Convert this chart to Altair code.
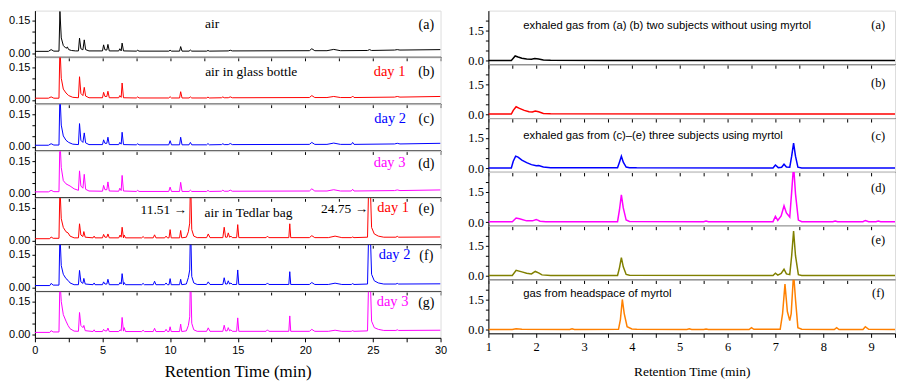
import altair as alt
import pandas as pd

# ---------------- data ----------------
# Left column: retention time (min) vs signal, panels (a)-(g)
LEFT_A = [(0, 0.008), (1.0, 0.008), (1.2, 0.016), (1.4, 0.009), (1.78, 0.009), (1.85, 0.192), (1.95, 0.07),
          (2.1, 0.035), (2.3, 0.022), (2.4, 0.028), (2.5, 0.016), (2.7, 0.012), (3.0, 0.01), (3.22, 0.01),
          (3.3, 0.069), (3.4, 0.02), (3.55, 0.015), (3.65, 0.061), (3.75, 0.016), (4.0, 0.01), (5.0, 0.01),
          (5.08, 0.038), (5.18, 0.015), (5.32, 0.014), (5.4, 0.04), (5.5, 0.01), (6.2, 0.01), (6.28, 0.02),
          (6.38, 0.01), (6.45, 0.046), (6.55, 0.01), (7.5, 0.009), (7.6, 0.013), (7.7, 0.009), (9.9, 0.009),
          (10.0, 0.013), (10.1, 0.009), (10.7, 0.009), (10.78, 0.03), (10.88, 0.009), (11.4, 0.009),
          (11.5, 0.014), (11.6, 0.009), (12.7, 0.009), (12.8, 0.012), (12.9, 0.009), (14.3, 0.01),
          (14.45, 0.013), (14.6, 0.01), (20.3, 0.011), (20.48, 0.02), (20.7, 0.011), (21.6, 0.011),
          (22.1, 0.017), (22.6, 0.011), (24.6, 0.012), (24.75, 0.016), (24.9, 0.012), (26.6, 0.014),
          (26.8, 0.016), (27.0, 0.014), (30, 0.016)]
LEFT_B = [(0, 0.008), (1.0, 0.008), (1.2, 0.014), (1.4, 0.008), (1.78, 0.008), (1.85, 0.25), (1.95, 0.1),
          (2.1, 0.05), (2.3, 0.032), (2.5, 0.02), (2.8, 0.012), (3.22, 0.01), (3.3, 0.107), (3.4, 0.03),
          (3.55, 0.02), (3.65, 0.058), (3.75, 0.018), (4.0, 0.01), (5.0, 0.01), (5.08, 0.035), (5.18, 0.016),
          (5.32, 0.016), (5.4, 0.04), (5.5, 0.01), (6.2, 0.01), (6.28, 0.02), (6.38, 0.012), (6.45, 0.078),
          (6.55, 0.01), (7.5, 0.009), (7.6, 0.014), (7.7, 0.009), (9.9, 0.009), (10.0, 0.015), (10.1, 0.009),
          (10.7, 0.009), (10.78, 0.038), (10.88, 0.009), (11.4, 0.009), (11.5, 0.014), (11.6, 0.009),
          (12.7, 0.009), (12.8, 0.013), (12.9, 0.009), (13.8, 0.01), (13.9, 0.014), (14.0, 0.01), (14.3, 0.01),
          (14.45, 0.014), (14.6, 0.01), (20.3, 0.011), (20.48, 0.02), (20.7, 0.011), (21.6, 0.011),
          (22.1, 0.016), (22.6, 0.011), (23.4, 0.011), (23.5, 0.018), (23.6, 0.011), (26.6, 0.013),
          (26.8, 0.016), (27.0, 0.013), (30, 0.016)]
LEFT_C = [(0, 0.007), (1.0, 0.007), (1.2, 0.014), (1.4, 0.008), (1.78, 0.008), (1.85, 0.25), (1.95, 0.1),
          (2.1, 0.05), (2.3, 0.03), (2.5, 0.02), (2.8, 0.012), (3.22, 0.01), (3.3, 0.107), (3.4, 0.03),
          (3.55, 0.02), (3.65, 0.064), (3.75, 0.018), (4.0, 0.01), (5.0, 0.01), (5.08, 0.032), (5.18, 0.016),
          (5.32, 0.016), (5.4, 0.044), (5.5, 0.01), (6.2, 0.01), (6.28, 0.02), (6.38, 0.012), (6.45, 0.067),
          (6.55, 0.01), (7.5, 0.009), (7.6, 0.014), (7.7, 0.009), (9.9, 0.009), (10.0, 0.028), (10.1, 0.009),
          (10.7, 0.009), (10.78, 0.044), (10.88, 0.009), (11.4, 0.009), (11.5, 0.02), (11.6, 0.009),
          (12.7, 0.009), (12.8, 0.015), (12.9, 0.009), (13.8, 0.01), (13.9, 0.014), (14.0, 0.01), (14.3, 0.01),
          (14.45, 0.015), (14.6, 0.01), (20.3, 0.011), (20.48, 0.02), (20.7, 0.011), (21.6, 0.011),
          (22.1, 0.017), (22.6, 0.011), (23.4, 0.011), (23.5, 0.02), (23.6, 0.011), (26.6, 0.013),
          (26.8, 0.016), (27.0, 0.013), (30, 0.016)]
LEFT_D = [(0, 0.008), (1.0, 0.008), (1.2, 0.015), (1.4, 0.009), (1.78, 0.009), (1.85, 0.25), (1.95, 0.12),
          (2.1, 0.06), (2.3, 0.045), (2.6, 0.035), (2.9, 0.022), (3.22, 0.015), (3.3, 0.105), (3.4, 0.035),
          (3.55, 0.025), (3.65, 0.089), (3.75, 0.02), (4.0, 0.012), (5.0, 0.011), (5.08, 0.038),
          (5.18, 0.018), (5.32, 0.018), (5.4, 0.054), (5.5, 0.012), (6.2, 0.011), (6.28, 0.025),
          (6.38, 0.014), (6.45, 0.084), (6.55, 0.012), (7.5, 0.01), (7.6, 0.015), (7.7, 0.01), (9.9, 0.01),
          (10.0, 0.03), (10.1, 0.01), (10.7, 0.01), (10.78, 0.052), (10.88, 0.01), (11.4, 0.01),
          (11.5, 0.016), (11.6, 0.01), (12.7, 0.01), (12.8, 0.015), (12.9, 0.01), (13.8, 0.011),
          (13.9, 0.016), (14.0, 0.011), (14.3, 0.011), (14.45, 0.016), (14.6, 0.011), (20.3, 0.012),
          (20.48, 0.022), (20.7, 0.012), (21.6, 0.012), (22.1, 0.018), (22.6, 0.012), (23.4, 0.012),
          (23.5, 0.02), (23.6, 0.012), (26.6, 0.014), (26.8, 0.017), (27.0, 0.014), (30, 0.017)]
LEFT_E = [(0, 0.008), (1.1, 0.008), (1.2, 0.016), (1.35, 0.01), (1.78, 0.01), (1.85, 0.25), (1.95, 0.1),
          (2.1, 0.06), (2.3, 0.04), (2.45, 0.035), (2.6, 0.02), (2.9, 0.012), (3.22, 0.012), (3.3, 0.077),
          (3.4, 0.025), (3.55, 0.018), (3.62, 0.041), (3.72, 0.015), (4.3, 0.012), (4.38, 0.02),
          (4.45, 0.012), (5.0, 0.012), (5.08, 0.028), (5.18, 0.015), (5.32, 0.015), (5.4, 0.03),
          (5.5, 0.012), (6.2, 0.012), (6.3, 0.025), (6.38, 0.015), (6.45, 0.061), (6.55, 0.012),
          (6.6, 0.025), (6.7, 0.012), (7.9, 0.012), (8.0, 0.018), (8.1, 0.012), (8.75, 0.012),
          (8.85, 0.026), (8.95, 0.012), (9.6, 0.012), (9.7, 0.02), (9.8, 0.012), (9.92, 0.012),
          (10.0, 0.05), (10.08, 0.012), (10.7, 0.012), (10.78, 0.046), (10.86, 0.012), (11.2, 0.015),
          (11.35, 0.04), (11.45, 0.08), (11.51, 0.3), (11.6, 0.05), (11.75, 0.02), (12.0, 0.013),
          (12.7, 0.013), (12.82, 0.03), (12.95, 0.013), (13.9, 0.013), (14.0, 0.061), (14.1, 0.015),
          (14.22, 0.015), (14.3, 0.035), (14.4, 0.015), (14.5, 0.02), (14.6, 0.013), (14.92, 0.013),
          (15.0, 0.073), (15.08, 0.013), (17.1, 0.013), (17.2, 0.02), (17.3, 0.013), (18.78, 0.013),
          (18.85, 0.077), (18.92, 0.013), (20.3, 0.013), (20.48, 0.022), (20.7, 0.013), (21.7, 0.013),
          (22.2, 0.02), (22.7, 0.013), (23.4, 0.013), (23.5, 0.016), (23.6, 0.013), (24.6, 0.015),
          (24.7, 0.3), (24.78, 0.3), (24.9, 0.06), (25.1, 0.03), (25.4, 0.02), (25.8, 0.015), (26.7, 0.015),
          (26.8, 0.019), (26.9, 0.015), (30, 0.016)]
LEFT_F = [(0, 0.008), (1.1, 0.008), (1.2, 0.018), (1.35, 0.01), (1.78, 0.01), (1.85, 0.25), (1.95, 0.1),
          (2.1, 0.06), (2.3, 0.04), (2.45, 0.032), (2.6, 0.02), (2.9, 0.012), (3.22, 0.012), (3.3, 0.078),
          (3.4, 0.025), (3.55, 0.018), (3.62, 0.041), (3.72, 0.015), (4.3, 0.012), (4.38, 0.02),
          (4.45, 0.012), (5.0, 0.012), (5.08, 0.025), (5.18, 0.015), (5.32, 0.015), (5.4, 0.037),
          (5.5, 0.012), (6.2, 0.012), (6.3, 0.022), (6.38, 0.015), (6.45, 0.063), (6.55, 0.012),
          (6.6, 0.022), (6.7, 0.012), (7.9, 0.012), (8.0, 0.018), (8.1, 0.012), (8.75, 0.012),
          (8.85, 0.028), (8.95, 0.012), (9.6, 0.012), (9.7, 0.02), (9.8, 0.012), (9.92, 0.012),
          (10.0, 0.04), (10.08, 0.012), (10.7, 0.012), (10.78, 0.037), (10.86, 0.012), (11.2, 0.015),
          (11.35, 0.045), (11.45, 0.08), (11.51, 0.3), (11.6, 0.05), (11.75, 0.02), (12.0, 0.013),
          (12.7, 0.013), (12.82, 0.025), (12.95, 0.013), (13.9, 0.013), (14.0, 0.044), (14.1, 0.015),
          (14.22, 0.015), (14.3, 0.03), (14.4, 0.015), (14.5, 0.02), (14.6, 0.013), (14.92, 0.013),
          (15.0, 0.08), (15.08, 0.013), (17.1, 0.013), (17.2, 0.02), (17.3, 0.013), (18.78, 0.013),
          (18.85, 0.072), (18.92, 0.013), (20.3, 0.013), (20.48, 0.022), (20.7, 0.013), (21.7, 0.013),
          (22.2, 0.019), (22.7, 0.013), (23.4, 0.013), (23.5, 0.017), (23.6, 0.013), (24.6, 0.015),
          (24.7, 0.3), (24.78, 0.3), (24.9, 0.06), (25.1, 0.03), (25.4, 0.02), (25.8, 0.015), (26.7, 0.015),
          (26.8, 0.018), (26.9, 0.015), (30, 0.016)]
LEFT_G = [(0, 0.008), (1.1, 0.008), (1.2, 0.016), (1.35, 0.01), (1.78, 0.01), (1.85, 0.25), (1.95, 0.15),
          (2.1, 0.09), (2.3, 0.06), (2.45, 0.04), (2.6, 0.025), (2.9, 0.014), (3.22, 0.013), (3.3, 0.1),
          (3.4, 0.04), (3.55, 0.03), (3.62, 0.04), (3.72, 0.016), (4.3, 0.012), (4.38, 0.02), (4.45, 0.012),
          (5.0, 0.012), (5.08, 0.022), (5.18, 0.015), (5.32, 0.015), (5.4, 0.028), (5.5, 0.012),
          (6.2, 0.012), (6.3, 0.02), (6.38, 0.015), (6.45, 0.077), (6.55, 0.014), (6.6, 0.03), (6.7, 0.012),
          (7.9, 0.012), (8.0, 0.018), (8.1, 0.012), (8.75, 0.012), (8.85, 0.027), (8.95, 0.012),
          (9.6, 0.012), (9.7, 0.022), (9.8, 0.012), (9.92, 0.012), (10.0, 0.034), (10.08, 0.012),
          (10.7, 0.012), (10.78, 0.046), (10.86, 0.012), (11.2, 0.015), (11.35, 0.04), (11.45, 0.08),
          (11.51, 0.3), (11.6, 0.05), (11.75, 0.02), (12.0, 0.013), (12.7, 0.013), (12.82, 0.029),
          (12.95, 0.013), (13.9, 0.013), (14.0, 0.041), (14.1, 0.015), (14.22, 0.015), (14.3, 0.03),
          (14.4, 0.015), (14.5, 0.02), (14.6, 0.013), (14.92, 0.013), (15.0, 0.075), (15.08, 0.013),
          (17.1, 0.013), (17.2, 0.02), (17.3, 0.013), (18.78, 0.013), (18.85, 0.084), (18.92, 0.013),
          (20.3, 0.013), (20.48, 0.022), (20.7, 0.013), (21.7, 0.013), (22.2, 0.018), (22.7, 0.013),
          (23.4, 0.013), (23.5, 0.016), (23.6, 0.013), (24.6, 0.015), (24.7, 0.3), (24.78, 0.3),
          (24.9, 0.06), (25.1, 0.03), (25.4, 0.022), (25.8, 0.017), (26.7, 0.017), (26.8, 0.02),
          (26.9, 0.017), (30, 0.018)]

# Right column: retention time (min) vs signal, panels (a)-(f)
RIGHT_A = [(1.0, 0.01), (1.48, 0.01), (1.52, 0.12), (1.56, 0.23), (1.62, 0.18), (1.7, 0.12), (1.8, 0.08),
           (1.9, 0.07), (1.97, 0.1), (2.05, 0.08), (2.15, 0.03), (2.3, 0.015), (3.5, 0.01), (9.5, 0.01)]
RIGHT_B = [(1.0, 0.02), (1.48, 0.02), (1.52, 0.2), (1.58, 0.38), (1.65, 0.3), (1.75, 0.2), (1.85, 0.13),
           (1.92, 0.12), (1.98, 0.17), (2.05, 0.13), (2.15, 0.05), (2.3, 0.03), (9.5, 0.02)]
RIGHT_C = [(1.0, 0.01), (1.48, 0.01), (1.52, 0.35), (1.57, 0.6), (1.62, 0.55), (1.7, 0.4), (1.8, 0.28),
           (1.9, 0.18), (2.0, 0.12), (2.05, 0.13), (2.15, 0.06), (2.3, 0.02), (3.7, 0.02), (3.74, 0.3),
           (3.78, 0.6), (3.82, 0.3), (3.88, 0.06), (3.95, 0.03), (4.1, 0.02), (6.95, 0.01), (7.0, 0.16),
           (7.06, 0.03), (7.13, 0.05), (7.18, 0.2), (7.23, 0.06), (7.3, 0.05), (7.34, 0.6), (7.38, 1.25),
           (7.42, 0.6), (7.47, 0.05), (7.55, 0.01), (9.5, 0.01)]
RIGHT_D = [(1.0, 0.01), (1.5, 0.01), (1.58, 0.2), (1.65, 0.16), (1.8, 0.06), (1.92, 0.06), (2.0, 0.13),
           (2.08, 0.04), (2.2, 0.02), (3.7, 0.02), (3.74, 0.6), (3.78, 1.35), (3.82, 0.7), (3.88, 0.1),
           (3.95, 0.03), (5.5, 0.02), (5.55, 0.05), (5.6, 0.02), (6.95, 0.02), (7.0, 0.28), (7.05, 0.08),
           (7.12, 0.3), (7.18, 0.81), (7.23, 0.45), (7.3, 0.25), (7.34, 1.5), (7.38, 2.8), (7.42, 1.4),
           (7.48, 0.1), (7.55, 0.02), (8.2, 0.02), (8.25, 0.05), (8.3, 0.02), (8.83, 0.02), (8.88, 0.08),
           (8.95, 0.02), (9.1, 0.02), (9.15, 0.05), (9.2, 0.02), (9.5, 0.02)]
RIGHT_E = [(1.0, 0.02), (1.5, 0.02), (1.58, 0.28), (1.7, 0.2), (1.8, 0.13), (1.9, 0.1), (1.98, 0.22),
           (2.05, 0.15), (2.12, 0.05), (2.3, 0.02), (3.7, 0.02), (3.74, 0.4), (3.78, 0.91), (3.82, 0.45),
           (3.88, 0.07), (3.95, 0.03), (6.95, 0.02), (7.0, 0.13), (7.05, 0.04), (7.12, 0.12), (7.18, 0.33),
           (7.23, 0.1), (7.3, 0.06), (7.34, 1.0), (7.38, 2.23), (7.42, 1.0), (7.48, 0.06), (7.55, 0.02),
           (9.5, 0.02)]
RIGHT_F = [(1.0, 0.01), (1.5, 0.01), (1.58, 0.05), (1.7, 0.02), (2.7, 0.01), (2.75, 0.04), (2.8, 0.01),
           (3.72, 0.02), (3.76, 0.5), (3.8, 1.5), (3.84, 0.8), (3.9, 0.15), (4.0, 0.04), (4.1, 0.02),
           (5.15, 0.01), (5.2, 0.04), (5.25, 0.01), (5.5, 0.01), (5.55, 0.03), (5.6, 0.01), (6.45, 0.01),
           (6.5, 0.1), (6.55, 0.02), (7.1, 0.02), (7.15, 0.8), (7.2, 2.26), (7.25, 0.9), (7.3, 0.45),
           (7.33, 0.8), (7.38, 2.8), (7.42, 1.5), (7.47, 0.1), (7.55, 0.02), (8.23, 0.01), (8.28, 0.1),
           (8.33, 0.01), (8.83, 0.01), (8.88, 0.15), (8.95, 0.02), (9.5, 0.01)]

LEFT_SERIES = [LEFT_A, LEFT_B, LEFT_C, LEFT_D, LEFT_E, LEFT_F, LEFT_G]
RIGHT_SERIES = [RIGHT_A, RIGHT_B, RIGHT_C, RIGHT_D, RIGHT_E, RIGHT_F]
LEFT_COLORS = ["#000000", "#ff0000", "#0000ff", "#ff00ff", "#ff0000", "#0000ff", "#ff00ff"]
RIGHT_COLORS = ["#000000", "#ff0000", "#0000ff", "#ff00ff", "#808000", "#ff8000"]
LEFT_LETTERS = ["(a)", "(b)", "(c)", "(d)", "(e)", "(f)", "(g)"]
RIGHT_LETTERS = ["(a)", "(b)", "(c)", "(d)", "(e)", "(f)"]
LEFT_LETTER_Y = [0.129, 0.127, 0.13, 0.135, 0.145, 0.143, 0.145]
RIGHT_LETTER_Y = [1.78, 1.56, 1.6, 1.7, 1.78, 1.83]
LEFT_DAY_LABELS = [None, "day 1", "day 2", "day 3", "day 1", "day 2", "day 3"]
LEFT_DAY_Y = [0, 0.13, 0.13, 0.14, 0.149, 0.147, 0.149]
LEFT_DAY_T = [0, 26.23, 26.27, 26.23, 26.5, 26.6, 26.45]
# free-text annotations: (panel, text, time, value, align)
LEFT_NOTES = [(0, "air", 13.1, 0.135, "center"),
              (1, "air in glass bottle", 16.0, 0.129, "center"),
              (4, "11.51 \u2192", 11.25, 0.14, "right"),
              (4, "air in Tedlar bag", 15.8, 0.127, "center"),
              (4, "24.75 \u2192", 24.64, 0.146, "right")]
RIGHT_NOTES = [(0, "exhaled gas from (a) (b) two subjects without using myrtol", 1.73, 1.7, "left"),
               (2, "exhaled gas from (c)\u2013(e) three subjects using myrtol", 1.73, 1.61, "left"),
               (5, "gas from headspace of myrtol", 1.73, 1.78, "left")]

LEFT_XTICKS = [0, 2.5, 5, 7.5, 10, 12.5, 15, 17.5, 20, 22.5, 25, 27.5, 30]
RIGHT_XTICKS = [1, 1.5, 2, 2.5, 3, 3.5, 4, 4.5, 5, 5.5, 6, 6.5, 7, 7.5, 8, 8.5, 9, 9.5]
LEFT_YTICKS = [0, 0.05, 0.1, 0.15]
RIGHT_YTICKS = [0, 0.5, 1.0, 1.5, 2.0]

SERIF = "Liberation Serif"
SANS = "Liberation Sans"


def panel(points, color, notes, xdom, ydom, xticks, yticks, xexpr, yexpr, bottom, w, h, lw,
          lab_font, lab_size, title_size, title_pad):
    df = pd.DataFrame(points, columns=["t", "y"])
    common = dict(values=xticks, tickSize=4, grid=False, labelFlush=False, labelOverlap=False,
                  domainColor="black", tickColor="black")
    if bottom:
        xaxis = alt.Axis(labels=True, labelExpr=xexpr, labelFont=lab_font, labelFontSize=lab_size,
                         labelColor="black", labelPadding=3, title="Retention Time (min)",
                         titleFont=SERIF, titleFontSize=title_size, titleFontWeight="normal",
                         titleColor="black", titlePadding=title_pad, **common)
    else:
        xaxis = alt.Axis(labels=False, title=None, **common)
    yaxis = alt.Axis(values=yticks, labelExpr=yexpr, tickSize=3, grid=False, labelOverlap=False,
                     labelFont=lab_font, labelFontSize=lab_size, labelColor="black", labelPadding=2,
                     domainColor="black", tickColor="black", title=None)
    x = alt.X("t:Q", scale=alt.Scale(domain=xdom, nice=False, zero=False), axis=xaxis)
    y = alt.Y("y:Q", scale=alt.Scale(domain=ydom, nice=False, zero=False), axis=yaxis)
    layers = [alt.Chart(df).mark_line(color=color, strokeWidth=lw, clip=True).encode(x=x, y=y)]
    for (label, t, v, col, font, size, align) in notes:
        nd = pd.DataFrame({"t": [t], "y": [v], "label": [label]})
        layers.append(alt.Chart(nd).mark_text(color=col, font=font, fontSize=size, align=align,
                                              baseline="middle").encode(x=x, y=y, text="label:N"))
    return alt.layer(*layers).properties(width=w, height=h)


left_panels = []
for i, pts in enumerate(LEFT_SERIES):
    notes = [(LEFT_LETTERS[i], 28.95, LEFT_LETTER_Y[i], "black", SERIF, 14, "center")]
    if LEFT_DAY_LABELS[i]:
        notes.append((LEFT_DAY_LABELS[i], LEFT_DAY_T[i], LEFT_DAY_Y[i], LEFT_COLORS[i], SERIF, 14.5, "center"))
    for (p, txt, t, v, al) in LEFT_NOTES:
        if p == i:
            notes.append((txt, t, v, "black", SERIF, 13.5, al))
    left_panels.append(panel(
        pts, LEFT_COLORS[i], notes, [0, 30], [-0.017, 0.196], LEFT_XTICKS, LEFT_YTICKS,
        "datum.value % 5 == 0 ? format(datum.value, 'd') : ''",
        "(datum.value == 0 || datum.value == 0.15) ? format(datum.value, '.2f') : ''",
        i == len(LEFT_SERIES) - 1, 407, 46.3, 1, SANS, 11, 17, 8))

right_panels = []
for i, pts in enumerate(RIGHT_SERIES):
    notes = [(RIGHT_LETTERS[i], 9.15, RIGHT_LETTER_Y[i], "black", SERIF, 12.5, "center")]
    for (p, txt, t, v, al) in RIGHT_NOTES:
        if p == i:
            notes.append((txt, t, v, "black", SANS, 11.3, al))
    right_panels.append(panel(
        pts, RIGHT_COLORS[i], notes, [1, 9.5], [-0.18, 2.48], RIGHT_XTICKS, RIGHT_YTICKS,
        "datum.value % 1 == 0 ? format(datum.value, 'd') : ''",
        "(datum.value == 0 || datum.value == 1.5) ? format(datum.value, '.1f') : ''",
        i == len(RIGHT_SERIES) - 1, 408, 53.8, 1.5, SERIF, 12.5, 13.5, 12))

left = alt.vconcat(*left_panels, spacing=0, bounds="flush")
right = alt.vconcat(*right_panels, spacing=0, bounds="flush")

chart = alt.hconcat(left, right, spacing=19).properties(
    padding={"left": 0, "top": 1, "right": 0, "bottom": 0}
).configure_view(stroke="black", strokeWidth=1).configure(background="white")

chart.save("out.html", embed_options={"renderer": "svg", "actions": False})
